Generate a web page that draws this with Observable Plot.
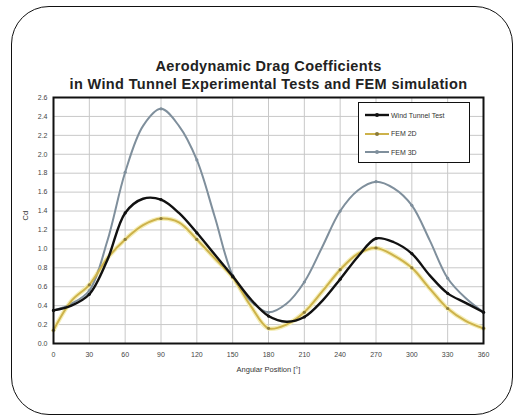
<!DOCTYPE html>
<html>
<head>
<meta charset="utf-8">
<script src="https://cdn.jsdelivr.net/npm/d3@7"></script>
<script src="https://cdn.jsdelivr.net/npm/@observablehq/plot@0.6"></script>
<style>
  html, body { margin: 0; padding: 0; background: #fff; }
  #wrap { position: relative; width: 514px; height: 416px; overflow: hidden; font-family: "Liberation Sans", Arial, sans-serif; }
  #border { position: absolute; left: 11px; top: 6px; width: 500px; height: 407px; border: 1.5px solid #111; border-radius: 38px; pointer-events: none; }
  #legend { position: absolute; left: 358px; top: 102px; width: 110px; height: 59px; border: 1.5px solid #111; background: #fff; font-size: 7px; color: #333; }
  .row { position: absolute; left: 6px; height: 10px; display: flex; align-items: center; }
  .row svg { margin-right: 2px; }
</style>
</head>
<body>
<div id="wrap">
  <div id="chart"></div>
  <div id="legend"></div>
  <div id="border"></div>
</div>
<script>
const titleLines = ["Aerodynamic Drag Coefficients", "in Wind Tunnel Experimental Tests and FEM simulation"];
const xLabel = "Angular Position [°]";
const yLabel = "Cd";
const seriesNames = ["Wind Tunnel Test", "FEM 2D", "FEM 3D"];
const seriesColors = ["#111111", "#cdb24a", "#7f8f9c"];
const angles = [0,15,30,45,60,75,90,105,120,135,150,165,180,195,210,225,240,255,270,285,300,315,330,345,360];
const windTunnel = [0.35,0.40,0.52,0.88,1.38,1.53,1.52,1.38,1.17,0.94,0.71,0.47,0.29,0.23,0.28,0.45,0.68,0.92,1.11,1.07,0.95,0.72,0.53,0.43,0.33];
const fem2D = [0.14,0.45,0.62,0.90,1.10,1.25,1.32,1.28,1.10,0.90,0.70,0.40,0.16,0.20,0.33,0.55,0.78,0.95,1.01,0.93,0.80,0.58,0.37,0.24,0.16];
const fem3D = [0.35,0.42,0.56,1.08,1.81,2.30,2.48,2.30,1.94,1.34,0.72,0.45,0.33,0.42,0.65,1.02,1.40,1.62,1.71,1.64,1.46,1.09,0.69,0.48,0.33];
const xTicks = [0,30,60,90,120,150,180,210,240,270,300,330,360];
const yTicks = [0,0.2,0.4,0.6,0.8,1.0,1.2,1.4,1.6,1.8,2.0,2.2,2.4,2.6];

const seriesValues = [windTunnel, fem2D, fem3D];
const rows = [];
seriesNames.forEach((s, i) => angles.forEach((a, j) => rows.push({series: s, angle: a, cd: seriesValues[i][j]})));
const widths = [2.4, 2, 2];

const marks = [
  Plot.gridX(xTicks, {stroke: "#c8c8c8", strokeOpacity: 1}),
  Plot.gridY(yTicks, {stroke: "#c8c8c8", strokeOpacity: 1}),
  Plot.axisX(xTicks, {tickSize: 0, tickPadding: 9, fontSize: 7, fill: "#444", label: null}),
  Plot.axisY(yTicks, {tickSize: 0, tickPadding: 6, fontSize: 7, fill: "#444", tickFormat: d => d.toFixed(1), label: null}),
];
marks.push(Plot.line(rows.filter(r => r.series === "FEM 2D"), {x: "angle", y: "cd", stroke: "#f5eeb8", strokeWidth: 4.5, curve: "catmull-rom"}));
[2, 1, 0].forEach(i => {
  const d = rows.filter(r => r.series === seriesNames[i]);
  marks.push(Plot.line(d, {x: "angle", y: "cd", stroke: seriesColors[i], strokeWidth: widths[i], curve: "catmull-rom"}));
  marks.push(Plot.dot(d.filter(r => r.angle % 30 === 0), {x: "angle", y: "cd", r: 1.6, fill: i === 1 ? "#8a7a3a" : seriesColors[i], stroke: "none"}));
});
marks.push(Plot.frame({stroke: "#111", strokeWidth: 2}));
marks.push(Plot.text([xLabel], {frameAnchor: "bottom", dy: 28, fontSize: 7.5, fill: "#333"}));
marks.push(Plot.text([yLabel], {frameAnchor: "left", dx: -28, rotate: -90, fontSize: 7.5, fill: "#333"}));
marks.push(Plot.text([titleLines[0]], {frameAnchor: "top", lineAnchor: "middle", dy: -31, fontSize: 14.5, fontWeight: "bold", fill: "#222"}));
marks.push(Plot.text([titleLines[1]], {frameAnchor: "top", lineAnchor: "middle", dy: -13, fontSize: 14.5, fontWeight: "bold", fill: "#222"}));

const chart = Plot.plot({
  width: 514, height: 416,
  marginLeft: 53, marginRight: 31, marginTop: 97, marginBottom: 73,
  style: {fontFamily: "Liberation Sans, Arial, sans-serif", background: "transparent"},
  x: {domain: [0, 360], label: null},
  y: {domain: [0, 2.6], label: null},
  marks
});
d3.select(chart).selectAll("text").filter(function() { return titleLines.includes(this.textContent); }).attr("letter-spacing", "0.35px");
document.getElementById("chart").appendChild(chart);

const legend = document.getElementById("legend");
seriesNames.forEach((s, i) => {
  const row = document.createElement("div");
  row.className = "row";
  row.style.top = (7 + i * 18.5) + "px";
  row.innerHTML = `<svg width="24" height="8"><line x1="0" y1="4" x2="24" y2="4" stroke="${seriesColors[i]}" stroke-width="${widths[i]}"/><circle cx="12" cy="4" r="2" fill="${i === 1 ? '#8a7a3a' : seriesColors[i]}"/></svg><span>${s}</span>`;
  legend.appendChild(row);
});
</script>
</body>
</html>
